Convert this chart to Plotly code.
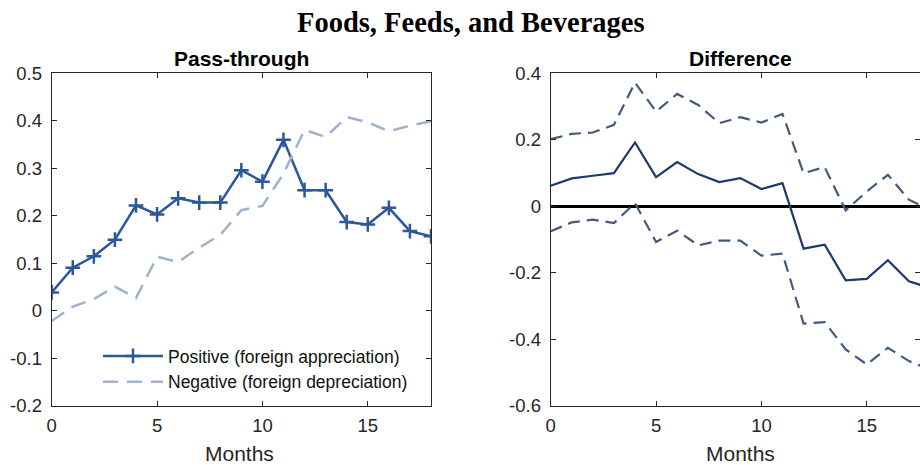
import plotly.graph_objects as go

months = list(range(19))
positive = [0.039, 0.091, 0.115, 0.150, 0.222, 0.203, 0.237, 0.228, 0.228, 0.296,
            0.272, 0.360, 0.254, 0.254, 0.187, 0.182, 0.217, 0.168, 0.157]
negative = [-0.021, 0.009, 0.025, 0.051, 0.027, 0.114, 0.103, 0.133, 0.160, 0.212,
            0.221, 0.289, 0.381, 0.366, 0.408, 0.397, 0.378, 0.390, 0.399]
diff_mid = [0.062, 0.084, 0.092, 0.100, 0.192, 0.088, 0.133, 0.097, 0.073, 0.085,
            0.052, 0.070, -0.127, -0.115, -0.222, -0.218, -0.162, -0.225, -0.245]
diff_hi = [0.202, 0.218, 0.222, 0.245, 0.372, 0.285, 0.338, 0.305, 0.250, 0.268,
           0.252, 0.278, 0.100, 0.118, -0.012, 0.045, 0.095, 0.020, -0.010]
diff_lo = [-0.075, -0.048, -0.040, -0.050, 0.010, -0.107, -0.073, -0.117, -0.103, -0.103,
           -0.148, -0.142, -0.352, -0.348, -0.430, -0.475, -0.425, -0.465, -0.490]

x_ticks = [0, 5, 10, 15]
left_y_ticks = [-0.2, -0.1, 0, 0.1, 0.2, 0.3, 0.4, 0.5]
right_y_ticks = [-0.6, -0.4, -0.2, 0, 0.2, 0.4]

W, H = 920, 465
FONT = "Liberation Sans, Arial, sans-serif"
AX = "#262626"

fig = go.Figure()
fig.add_trace(go.Scatter(x=months, y=positive, mode="lines+markers",
                         name="Positive (foreign appreciation)",
                         line=dict(color="#2C5899", width=2.5),
                         marker=dict(symbol="cross-thin", size=10.5,
                                     line=dict(color="#2C5899", width=2.5)),
                         xaxis="x", yaxis="y"))
fig.add_trace(go.Scatter(x=months, y=negative, mode="lines",
                         name="Negative (foreign depreciation)",
                         line=dict(color="#9FB2CD", width=2.5, dash="15px,9px"),
                         xaxis="x", yaxis="y"))
fig.add_trace(go.Scatter(x=months, y=diff_hi, mode="lines", showlegend=False,
                         line=dict(color="#435A7C", width=2.2, dash="12px,7px"),
                         xaxis="x2", yaxis="y2"))
fig.add_trace(go.Scatter(x=months, y=diff_lo, mode="lines", showlegend=False,
                         line=dict(color="#435A7C", width=2.2, dash="12px,7px"),
                         xaxis="x2", yaxis="y2"))
fig.add_trace(go.Scatter(x=months, y=diff_mid, mode="lines", showlegend=False,
                         line=dict(color="#1C3A6B", width=2.2),
                         xaxis="x2", yaxis="y2"))

x0L, x1L = 51.7, 431.0
x0R = 550.7
unitR = (x1L - x0L) / 18.0
xmaxR = (W - x0R) / unitR
ytop, ybot = 73.3, 406.0
ydom = [(H - ybot) / H, (H - ytop) / H]

axis_common = dict(showgrid=False, ticks="inside", ticklen=5, tickwidth=1,
                   tickcolor=AX, showline=True, linecolor=AX, linewidth=1,
                   mirror="allticks", automargin=False,
                   tickfont=dict(family=FONT, size=18.5, color="#262626"))

fig.update_layout(
    width=W, height=H,
    margin=dict(l=0, r=0, t=0, b=0),
    paper_bgcolor="white", plot_bgcolor="white",
    showlegend=True,
    legend=dict(x=98 / W, y=1 - 338 / H, xanchor="left", yanchor="top",
                xref="paper", yref="paper",
                bgcolor="rgba(0,0,0,0)", itemwidth=60,
                font=dict(family=FONT, size=17.5, color="#111"), tracegroupgap=0),
    xaxis=dict(domain=[x0L / W, x1L / W], range=[0, 18], tickvals=x_ticks,
               ticklabelstandoff=3, zeroline=False,
               anchor="y", **axis_common),
    yaxis=dict(domain=ydom, range=[-0.2, 0.5], tickvals=left_y_ticks,
               ticktext=[f"{v:g}" for v in left_y_ticks], ticklabelstandoff=5,
               zeroline=False, anchor="x", **axis_common),
    xaxis2=dict(domain=[x0R / W, 1.0], range=[0, xmaxR], tickvals=x_ticks,
                ticklabelstandoff=3, zeroline=False,
                anchor="y2", **axis_common),
    yaxis2=dict(domain=ydom, range=[-0.6, 0.4], tickvals=right_y_ticks,
                ticktext=[f"{v:g}" for v in right_y_ticks], ticklabelstandoff=5,
                anchor="x2", **axis_common,
                zeroline=True, zerolinecolor="black", zerolinewidth=2.5),
)

centerL = (x0L + x1L) / 2
centerR = (x0R + x0R + 18 * unitR) / 2
annotations = [
    dict(text="<b>Foods, Feeds, and Beverages</b>", x=470.5 / W, y=1 - 22 / H,
         xref="paper", yref="paper", showarrow=False, xanchor="center", yanchor="middle",
         font=dict(family="Liberation Serif, Times New Roman, serif", size=28.5, color="black")),
    dict(text="<b>Pass-through</b>", x=centerL / W, y=1 - 58 / H,
         xref="paper", yref="paper", showarrow=False, xanchor="center", yanchor="middle",
         font=dict(family=FONT, size=21, color="black")),
    dict(text="<b>Difference</b>", x=centerR / W, y=1 - 58 / H,
         xref="paper", yref="paper", showarrow=False, xanchor="center", yanchor="middle",
         font=dict(family=FONT, size=21, color="black")),
    dict(text="Months", x=239 / W, y=1 - 453 / H,
         xref="paper", yref="paper", showarrow=False, xanchor="center", yanchor="middle",
         font=dict(family=FONT, size=21, color="#262626")),
    dict(text="Months", x=centerR / W, y=1 - 453 / H,
         xref="paper", yref="paper", showarrow=False, xanchor="center", yanchor="middle",
         font=dict(family=FONT, size=21, color="#262626")),
]
fig.update_layout(annotations=annotations)

fig.write_html("out.html",
               config={"displayModeBar": False},
               post_script="document.body.style.margin='0';document.body.style.overflow='hidden';")
